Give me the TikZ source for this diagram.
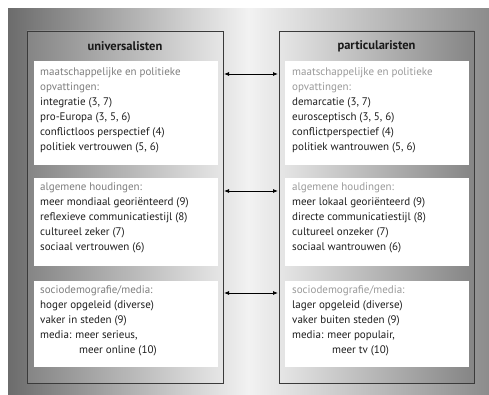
\documentclass[tikz,border=0pt]{standalone}
\usepackage{fontspec}
\setmainfont{PT Sans}
\usetikzlibrary{arrows.meta}
\definecolor{bgdark}{HTML}{6C6C6C}
\definecolor{bglight}{HTML}{F2F2F2}
\definecolor{bgdarkr}{HTML}{8C8C8C}
\definecolor{pdark}{HTML}{858585}
\definecolor{plight}{HTML}{E6E6E6}
\definecolor{pline}{HTML}{3A3A3A}
\definecolor{catgrayL}{HTML}{7E7E7E}
\definecolor{catgrayR}{HTML}{9A9A9A}
\definecolor{itemcol}{HTML}{1E1E1E}
\tikzset{
  panel/.style={draw=pline, line width=0.9pt},
  whitebox/.style={draw=none, fill=white, inner sep=0pt, anchor=north west},
  boxtext/.style={anchor=north west, align=left, inner sep=0pt, font=\fontsize{11}{15}\selectfont, text=itemcol},
  header/.style={font=\fontsize{12.5}{15}\selectfont\bfseries, text=black!90},
  link/.style={draw=black, line width=0.8pt, {Latex[length=5pt,width=4pt]}-{Latex[length=5pt,width=4pt]}}
}
\begin{document}
\begin{tikzpicture}[x=1pt,y=-1pt]
\useasboundingbox (0,0) rectangle (489,395);
% background
\shade[left color=bgdark, right color=bgdarkr, middle color=bglight] (8,9) rectangle (489,395);
% panels
\shadedraw[panel, left color=pdark, right color=plight] (27,31) rectangle (223,383);
\shadedraw[panel, left color=plight, right color=pdark] (279,31) rectangle (474,383);
\node[header] (hL) at (125,46) {universalisten};
\node[header] (hR) at (376.5,46) {particularisten};
% white boxes left
\fill[white] (34,61) rectangle (218,165);
\fill[white] (34,178) rectangle (218,266);
\fill[white] (34,281) rectangle (218,367);
% white boxes right
\fill[white] (285,61) rectangle (469,165);
\fill[white] (285,178) rectangle (469,266);
\fill[white] (285,281) rectangle (469,367);
% texts left
\node[boxtext] (tL1) at (40,68) {\textcolor{catgrayL}{maatschappelijke en politieke}\\
\textcolor{catgrayL}{opvattingen:}\\
integratie (3, 7)\\
pro-Europa (3, 5, 6)\\
conflictloos perspectief (4)\\
politiek vertrouwen (5, 6)};
\node[boxtext] (tL2) at (40,183) {\textcolor{catgrayL}{algemene houdingen:}\\
meer mondiaal georiënteerd (9)\\
reflexieve communicatiestijl (8)\\
cultureel zeker (7)\\
sociaal vertrouwen (6)};
\node[boxtext] (tL3) at (40,285) {\textcolor{catgrayL}{sociodemografie/media:}\\
hoger opgeleid (diverse)\\
vaker in steden (9)\\
media: meer serieus,\\
\hspace*{39pt}meer online (10)};
% texts right
\node[boxtext] (tR1) at (292,68) {\textcolor{catgrayR}{maatschappelijke en politieke}\\
\textcolor{catgrayR}{opvattingen:}\\
demarcatie (3, 7)\\
eurosceptisch (3, 5, 6)\\
conflictperspectief (4)\\
politiek wantrouwen (5, 6)};
\node[boxtext] (tR2) at (292,183) {\textcolor{catgrayR}{algemene houdingen:}\\
meer lokaal georiënteerd (9)\\
directe communicatiestijl (8)\\
cultureel onzeker (7)\\
sociaal wantrouwen (6)};
\node[boxtext] (tR3) at (292,285) {\textcolor{catgrayR}{sociodemografie/media:}\\
lager opgeleid (diverse)\\
vaker buiten steden (9)\\
media: meer populair,\\
\hspace*{40pt}meer tv (10)};
% connectors
\coordinate (a1) at (224,74); \coordinate (b1) at (278,74);
\coordinate (a2) at (224,191); \coordinate (b2) at (278,191);
\coordinate (a3) at (224,293); \coordinate (b3) at (278,293);
\draw[link] (a1) -- (b1);
\draw[link] (a2) -- (b2);
\draw[link] (a3) -- (b3);
\end{tikzpicture}
\end{document}
